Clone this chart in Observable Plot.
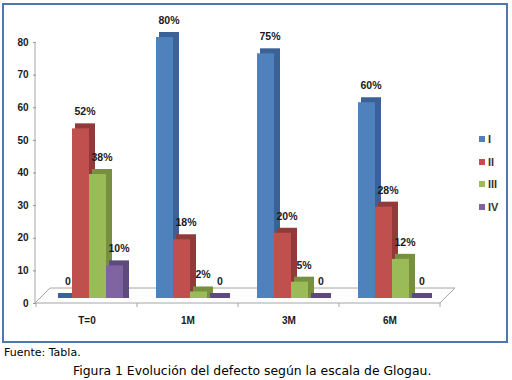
<!DOCTYPE html>
<html><head><meta charset="utf-8">
<script src="https://cdn.jsdelivr.net/npm/d3@7"></script>
<script src="https://cdn.jsdelivr.net/npm/@observablehq/plot@0.6"></script>
<style>
body{margin:0;background:#fff;width:512px;height:380px;overflow:hidden;position:relative;font-family:"DejaVu Sans",Verdana,sans-serif}
#box{position:absolute;left:2px;top:3px;width:506px;height:340px;border:2px solid #5077aa;box-sizing:border-box}
#chart{position:absolute;left:0;top:0}
#chart svg text{fill:#1a1a1a}
#legend{position:absolute;left:479px;top:133px;font-family:"Liberation Sans Narrow","Liberation Sans",Arial,sans-serif;font-weight:bold;font-size:11px;color:#333}
#legend div{display:flex;align-items:center;height:12px;margin-bottom:10.5px}
#legend span.sw{display:inline-block;width:6px;height:6px;margin-right:3px}
#src{position:absolute;left:4px;top:346px;font-size:11px;color:#000}
#cap{position:absolute;left:73px;top:363px;font-size:12.4px;color:#000;white-space:nowrap}
</style></head>
<body>
<div id="box"></div>
<div id="chart"></div>
<div id="legend"></div>
<div id="src">Fuente: Tabla.</div>
<div id="cap">Figura 1 Evolución del defecto según la escala de Glogau.</div>
<script>
const categories = ["T=0", "1M", "3M", "6M"];
const series = ["I", "II", "III", "IV"];
const valuesI = [0, 80, 75, 60];
const valuesII = [52, 18, 20, 28];
const valuesIII = [38, 2, 5, 12];
const valuesIV = [10, 0, 0, 0];
const labelsI = ["0", "80%", "75%", "60%"];
const labelsII = ["52%", "18%", "20%", "28%"];
const labelsIII = ["38%", "2%", "5%", "12%"];
const labelsIV = ["10%", "0", "0", "0"];
const yTicks = [0, 10, 20, 30, 40, 50, 60, 70, 80];
const colors = ["#4F81BD", "#C0504D", "#9BBB59", "#8064A2"];
const sideColors = ["#3A6296", "#93393A", "#76903F", "#5F4A7D"];

const allValues = [valuesI, valuesII, valuesIII, valuesIV];
const allLabels = [labelsI, labelsII, labelsIII, labelsIV];
const data = categories.flatMap((c, i) => series.map((s, j) => ({
  cat: c, ser: s, value: allValues[j][i], label: allLabels[j][i], side: sideColors[j]
})));

const DEPTH_X = 6, DEPTH_Y = 5, LIFT = 5;

const plot = Plot.plot({
  width: 512, height: 342,
  marginLeft: 35, marginRight: 72, marginTop: 42, marginBottom: 39,
  style: {fontFamily: '"Liberation Sans Narrow","Liberation Sans",Arial,sans-serif', fontSize: "10px", fontWeight: "bold", color: "#999", background: "transparent"},
  fx: {domain: categories, paddingInner: 0, paddingOuter: 0, label: null, tickSize: 0, tickPadding: 13},
  x: {domain: series, paddingInner: 0, paddingOuter: 0.8125, axis: null},
  y: {domain: [0, 80], ticks: yTicks, tickSize: 3, tickPadding: 5, label: null, tickFormat: d => d},
  color: {domain: series, range: colors},
  marks: [
    Plot.rectY(data, {fx: "cat", x: "ser", y1: 0, y2: "value", fill: "side",
      insetLeft: 3, insetRight: -DEPTH_X, insetTop: -DEPTH_Y, dx: 2, dy: -LIFT}),
    Plot.barY(data, {fx: "cat", x: "ser", y: "value", fill: "ser", dx: 2, dy: -LIFT}),
    Plot.text(data, {fx: "cat", x: "ser", y: "value", text: "label", dx: 6, dy: -LIFT - 17,
      fill: "#1a1a1a", fontSize: 10.5, fontWeight: "bold"})
  ]
});
document.getElementById("chart").appendChild(plot);

// floor, y-axis line and category boundary ticks, positioned with the plot's scales
const fx = plot.scale("fx"), y = plot.scale("y");
const svg = d3.select(plot);
const x0 = fx.range[0], x1 = fx.range[1], y0 = y.apply(0), yTop = y.apply(80);
const g = svg.insert("g", ":first-child").attr("fill", "none").attr("stroke", "#a6a6a6").attr("stroke-width", 1);
g.append("path").attr("fill", "#fdfdfd")
  .attr("d", `M${x0},${y0}L${x1},${y0}L${x1 + 15},${y0 - 15}L${x0 + 15},${y0 - 15}Z`);
g.append("line").attr("x1", x0).attr("x2", x0).attr("y1", yTop).attr("y2", y0);
categories.concat([null]).forEach((c, i) => {
  const xx = c === null ? x1 : fx.apply(c);
  g.append("line").attr("x1", xx).attr("x2", xx).attr("y1", y0).attr("y2", y0 + 4);
});

const legend = d3.select("#legend");
series.forEach((s, i) => {
  const row = legend.append("div");
  row.append("span").attr("class", "sw").style("background", colors[i]);
  row.append("span").text(s);
});
</script>
</body></html>
